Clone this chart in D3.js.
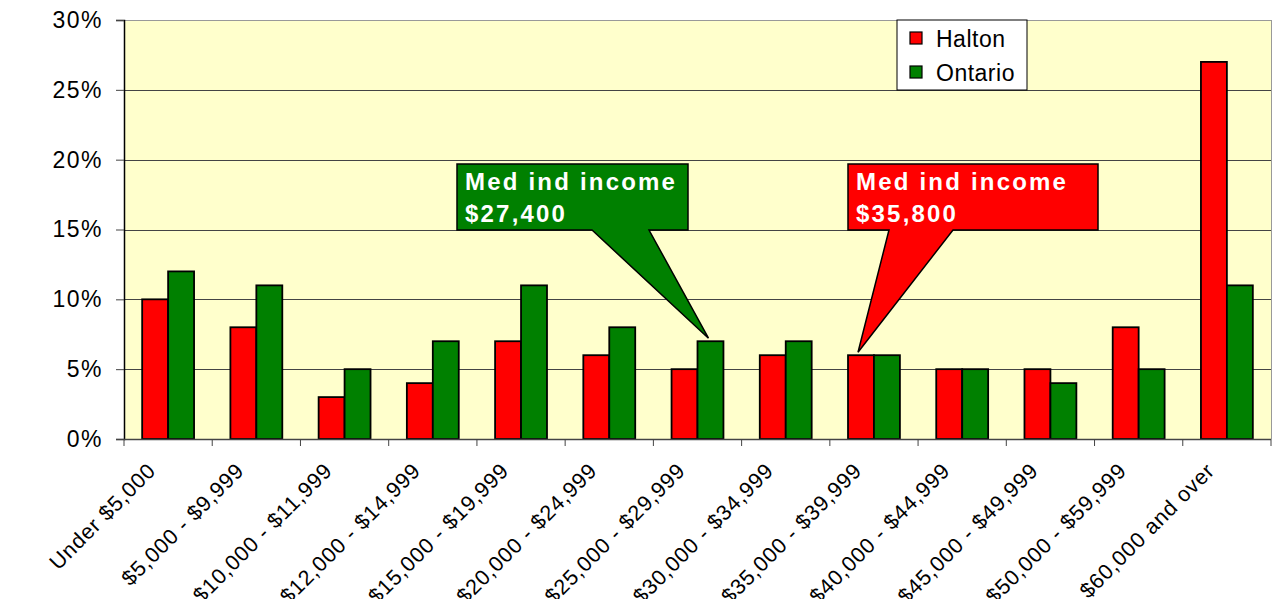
<!DOCTYPE html>
<html>
<head>
<meta charset="utf-8">
<script src="https://cdn.jsdelivr.net/npm/d3@7"></script>
<style>
  body { margin: 0; background: #fff; }
  text { font-family: "Liberation Sans", Arial, sans-serif; }
</style>
</head>
<body>
<div id="chart"></div>
<script>
// data
const categories = ["Under $5,000", "$5,000 - $9,999", "$10,000 - $11,999", "$12,000 - $14,999",
  "$15,000 - $19,999", "$20,000 - $24,999", "$25,000 - $29,999", "$30,000 - $34,999",
  "$35,000 - $39,999", "$40,000 - $44,999", "$45,000 - $49,999", "$50,000 - $59,999", "$60,000 and over"];
const seriesNames = ["Halton", "Ontario"];
const halton = [10, 8, 3, 4, 7, 6, 5, 6, 6, 5, 5, 8, 27];
const ontario = [12, 11, 5, 7, 11, 8, 7, 7, 6, 5, 4, 5, 11];
const yTicks = [0, 5, 10, 15, 20, 25, 30];
const callouts = [
  { series: "Ontario", category: "$25,000 - $29,999", lines: ["Med ind income", "$27,400"] },
  { series: "Halton", category: "$35,000 - $39,999", lines: ["Med ind income", "$35,800"] }
];

const colors = { Halton: "#ff0000", Ontario: "#008000" };
const values = { Halton: halton, Ontario: ontario };

const W = 1277, H = 599;
const margin = { top: 20, right: 6, bottom: 160, left: 124 };
const svg = d3.select("#chart").append("svg").attr("width", W).attr("height", H);

const x0 = d3.scaleBand().domain(categories).range([margin.left, W - margin.right]).padding(0);
const x1 = d3.scaleBand().domain(seriesNames).range([0, x0.bandwidth()]).paddingInner(0).paddingOuter(0.7);
const y = d3.scaleLinear().domain([0, 30]).range([H - margin.bottom, margin.top]);

// plot background
svg.append("rect")
  .attr("x", margin.left).attr("y", margin.top)
  .attr("width", W - margin.right - margin.left)
  .attr("height", y(0) - margin.top)
  .attr("fill", "#ffffcc");

// grid lines
svg.append("g").selectAll("line")
  .data(yTicks.filter(d => d > 0))
  .join("line")
  .attr("x1", margin.left).attr("x2", W - margin.right)
  .attr("y1", d => Math.round(y(d)) + 0.5).attr("y2", d => Math.round(y(d)) + 0.5)
  .attr("stroke", d => d === 30 ? "#999" : "#444").attr("stroke-width", 1);

// right border
svg.append("line")
  .attr("x1", W - margin.right + 0.5).attr("x2", W - margin.right + 0.5)
  .attr("y1", margin.top).attr("y2", y(0))
  .attr("stroke", "#999");

// bars
const rows = categories.map((c, i) => ({ c, vals: seriesNames.map(s => ({ s, v: values[s][i] })) }));
svg.append("g").selectAll("g")
  .data(rows)
  .join("g")
  .attr("transform", d => `translate(${x0(d.c)},0)`)
  .selectAll("rect")
  .data(d => d.vals)
  .join("rect")
  .attr("x", d => x1(d.s))
  .attr("y", d => y(d.v))
  .attr("width", x1.bandwidth())
  .attr("height", d => y(0) - y(d.v))
  .attr("fill", d => colors[d.s])
  .attr("stroke", "#000")
  .attr("stroke-width", 1.8);

// y axis
const yAxis = svg.append("g")
  .attr("transform", `translate(${margin.left},0)`)
  .call(d3.axisLeft(y).tickValues(yTicks).tickFormat(d => d + "%").tickSize(8).tickPadding(13));
yAxis.select(".domain").attr("stroke", "#000").attr("stroke-width", 1.5);
yAxis.selectAll(".tick line").attr("stroke", "#444");
yAxis.selectAll("text")
  .attr("fill", "#000")
  .style("font-size", "23px")
  .style("letter-spacing", "1.5px")
  .style("font-family", "'Liberation Sans', Arial, sans-serif");

// x axis
const boundaries = categories.map(c => x0(c)).concat([W - margin.right]);
const xg = svg.append("g");
xg.append("line")
  .attr("x1", margin.left).attr("x2", W - margin.right)
  .attr("y1", y(0) + 0.5).attr("y2", y(0) + 0.5)
  .attr("stroke", "#444").attr("stroke-width", 1.5);
xg.selectAll(".tk")
  .data(boundaries)
  .join("line").attr("class", "tk")
  .attr("x1", d => d).attr("x2", d => d)
  .attr("y1", y(0)).attr("y2", y(0) + 7)
  .attr("stroke", "#444");
xg.selectAll("text")
  .data(categories)
  .join("text")
  .attr("transform", d => `translate(${x0(d) + x0.bandwidth() / 2 - 11},${y(0) + 33}) rotate(-45)`)
  .attr("text-anchor", "end")
  .style("font-size", "21.5px")
  .style("letter-spacing", "0.8px")
  .attr("fill", "#000")
  .text(d => d);

// callouts
const boxes = [
  { x: 457, y: 164, w: 231, h: 66, b0: 592, b1: 649 },
  { x: 848, y: 164, w: 250, h: 66, b0: 889, b1: 953 }
];
callouts.forEach((c, i) => {
  const bx = boxes[i];
  const idx = categories.indexOf(c.category);
  const v = values[c.series][idx];
  const tipX = x0(c.category) + x1(c.series) + (c.series === "Halton" ? 10 : x1.bandwidth() / 2 - 2);
  const tipY = y(v) - 3;
  const pts = [
    [bx.x, bx.y], [bx.x + bx.w, bx.y], [bx.x + bx.w, bx.y + bx.h],
    [bx.b1, bx.y + bx.h], [tipX, tipY], [bx.b0, bx.y + bx.h], [bx.x, bx.y + bx.h]
  ];
  svg.append("path")
    .attr("d", d3.line()(pts) + "Z")
    .attr("fill", colors[c.series])
    .attr("stroke", "#000")
    .attr("stroke-width", 1.5);
  svg.append("g").selectAll("text")
    .data(c.lines)
    .join("text")
    .attr("x", bx.x + 8)
    .attr("y", (d, j) => bx.y + 26 + j * 32)
    .attr("fill", "#fff")
    .style("font-size", "24px")
    .style("font-weight", "bold")
    .style("letter-spacing", "2.2px")
    .text(d => d);
});

// legend
const lg = svg.append("g").attr("transform", "translate(897,20)");
lg.append("rect").attr("width", 130).attr("height", 70)
  .attr("fill", "#fff").attr("stroke", "#000").attr("stroke-width", 1);
const li = lg.selectAll("g.item")
  .data(seriesNames)
  .join("g").attr("class", "item")
  .attr("transform", (d, i) => `translate(13,${12 + i * 34})`);
li.append("rect").attr("width", 12).attr("height", 12)
  .attr("fill", d => colors[d]).attr("stroke", "#000").attr("stroke-width", 1.2);
li.append("text").attr("x", 26).attr("y", 14.5)
  .style("font-size", "23px").style("letter-spacing", "0.5px")
  .attr("fill", "#000").text(d => d);
</script>
</body>
</html>
